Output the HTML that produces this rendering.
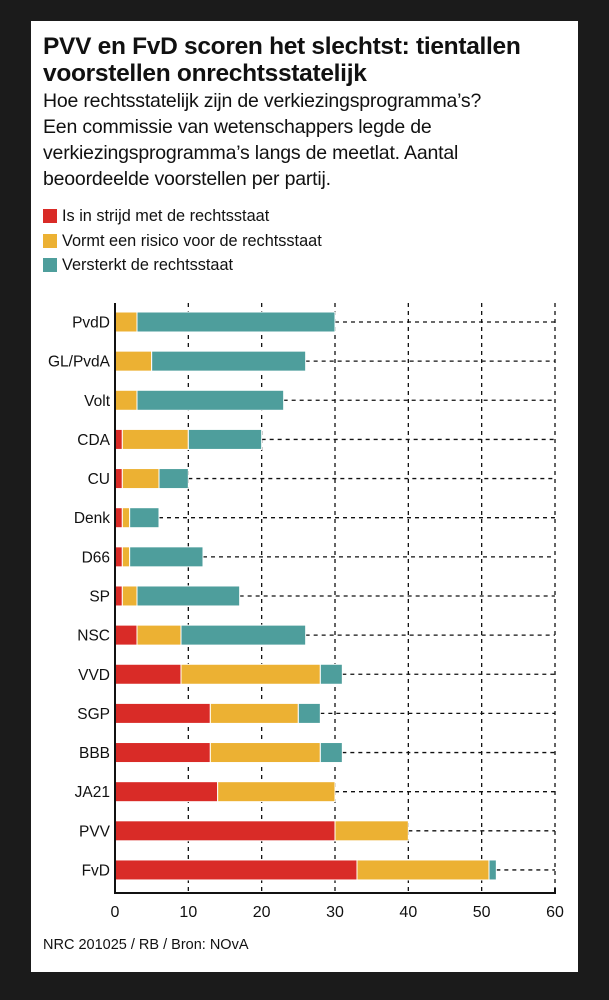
<!DOCTYPE html>
<html><head><meta charset="utf-8"><style>
body{margin:0;width:609px;height:1000px;background:#1b1b1b;font-family:"Liberation Sans",sans-serif;}
#card{position:absolute;left:31px;top:21px;width:547px;height:951px;background:#fff;}
h1{position:absolute;left:12px;top:12px;margin:0;font-size:24.5px;line-height:27px;font-weight:bold;color:#111;letter-spacing:-0.3px;width:540px;white-space:nowrap}
#sub{position:absolute;left:12px;top:67px;font-size:19.5px;line-height:26px;color:#111;width:540px;letter-spacing:-0.2px;white-space:nowrap}
.leg{position:absolute;left:12px;font-size:16.3px;color:#111;height:16px;line-height:16px}
.leg span{display:inline-block;width:14px;height:14px;vertical-align:-2px;margin-right:5px}
#foot{position:absolute;left:12px;top:916px;font-size:14.5px;color:#111}
svg{position:absolute;left:0;top:0}
</style></head><body>
<div id="card">
<h1>PVV en FvD scoren het slechtst: tientallen<br>voorstellen onrechtsstatelijk</h1>
<div id="sub">Hoe rechtsstatelijk zijn de verkiezingsprogramma’s?<br>Een commissie van wetenschappers legde de<br>verkiezingsprogramma’s langs de meetlat. Aantal<br>beoordeelde voorstellen per partij.</div>
<div class="leg" style="top:187px"><span style="background:#d92b27"></span>Is in strijd met de rechtsstaat</div>
<div class="leg" style="top:212px"><span style="background:#ecb133"></span>Vormt een risico voor de rechtsstaat</div>
<div class="leg" style="top:236px"><span style="background:#4e9e9c"></span>Versterkt de rechtsstaat</div>
<svg id="chart" width="547" height="951"></svg>
<div id="foot">NRC 201025 / RB / Bron: NOvA</div>
</div>
<script>
const parties=["PvdD","GL/PvdA","Volt","CDA","CU","Denk","D66","SP","NSC","VVD","SGP","BBB","JA21","PVV","FvD"];
const strijd=[0,0,0,1,1,1,1,1,3,9,13,13,14,30,33];
const risico=[3,5,3,9,5,1,1,2,6,19,12,15,16,10,18];
const versterkt=[27,21,20,10,4,4,10,14,17,3,3,3,0,0,1];
const ticks=[0,10,20,30,40,50,60];
const colors=["#d92b27","#ecb133","#4e9e9c"];
const svg=document.getElementById('chart');const NS="http://www.w3.org/2000/svg";
const X0=84,X1=524,Y0=282,Y1=872,R0=301,RS=39.14,BH=20;
const x=v=>X0+(v/60)*(X1-X0);const y=i=>R0+i*RS;
function mk(t,a){const e=document.createElementNS(NS,t);for(const k in a)e.setAttribute(k,a[k]);svg.appendChild(e);return e;}
ticks.forEach(t=>{if(t>0){const l=mk('line',{x1:x(t),x2:x(t),y1:Y0,y2:Y1,stroke:'#111','stroke-width':1.3,'stroke-dasharray':'4,4'});

}
const tx=mk('text',{x:x(t),y:Y1+24,'text-anchor':'middle','font-size':16,fill:'#111'});tx.textContent=t;

});
parties.forEach((p,i)=>{const vals=[strijd[i],risico[i],versterkt[i]];let acc=0;const cy=y(i);
const tot=vals[0]+vals[1]+vals[2];
const g=mk('line',{x1:x(tot),x2:X1,y1:cy,y2:cy,stroke:'#111','stroke-width':1.3,'stroke-dasharray':'4,4'});


vals.forEach((v,k)=>{if(v>0){const r=mk('rect',{x:x(acc),y:cy-BH/2,width:x(acc+v)-x(acc),height:BH,fill:colors[k],stroke:'#fff','stroke-width':1});

}acc+=v;});
const lb=mk('text',{x:X0-5,y:cy+5.5,'text-anchor':'end','font-size':15.5,fill:'#111'});lb.textContent=p;

});
const ax=mk('path',{d:`M${X0},${Y0}V${Y1}H${X1}V${Y1-5}`,fill:'none',stroke:'#111','stroke-width':2});


</script>
</body></html>
